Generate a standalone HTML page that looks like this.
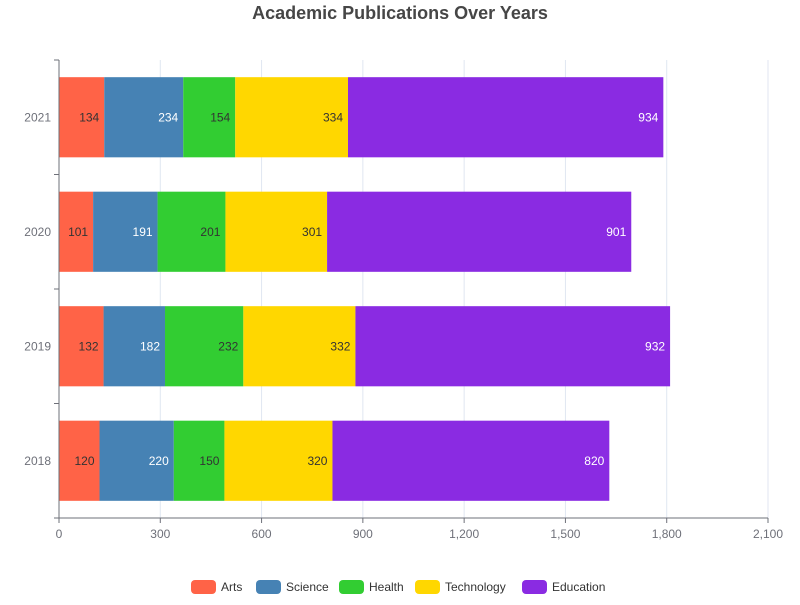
<!DOCTYPE html>
<html><head><meta charset="utf-8">
<style>
body{margin:0;background:#fff;font-family:"Liberation Sans",sans-serif;}
svg text{font-family:"Liberation Sans",sans-serif;}
</style></head>
<body>
<svg id="chart" width="800" height="600">
<text x="400" y="19" text-anchor="middle" font-size="18" font-weight="bold" fill="#464646">Academic Publications Over Years</text>
<g id="grid"></g><g id="bars"></g><g id="axes"></g><g id="legend"></g>
</svg>
<script>
const categories = ["2018","2019","2020","2021"];
const seriesNames = ["Arts","Science","Health","Technology","Education"];
const arts = [120,132,101,134];
const science = [220,182,191,234];
const health = [150,232,201,154];
const technology = [320,332,301,334];
const education = [820,932,901,934];
const xTicks = [0,300,600,900,1200,1500,1800,2100];
const colors = ["#ff6347","#4682b4","#32cd32","#ffd700","#8a2be2"];
const labelColors = ["#333","#fff","#333","#333","#fff"];
const series = [arts,science,health,technology,education];
const NS="http://www.w3.org/2000/svg";
const x0=59,x1=768,yTop=60,yBot=518,xMax=2100;
const xs=v=>x0+v/xMax*(x1-x0);
const band=(yBot-yTop)/categories.length;
const yc=i=>yBot-band*(i+0.5);
function mk(tag,attrs,parent){const e=document.createElementNS(NS,tag);for(const k in attrs)e.setAttribute(k,attrs[k]);parent.appendChild(e);return e;}
const grid=document.getElementById('grid'),bars=document.getElementById('bars'),axes=document.getElementById('axes'),legend=document.getElementById('legend');
xTicks.forEach(t=>{
  if(t>0){const l=mk('line',{x1:xs(t),x2:xs(t),y1:yTop,y2:yBot,stroke:'#e0e6f1'},grid);
  
  }
  const tx=mk('text',{x:xs(t),y:yBot+20,'text-anchor':'middle','font-size':12,fill:'#6e7079'},axes);
  tx.textContent=t.toLocaleString('en-US');
  
  
});
const bh=band*0.7;
categories.forEach((c,i)=>{
  let acc=0;
  series.forEach((s,j)=>{
    const v=s[i];
    const r=mk('rect',{x:xs(acc),y:yc(i)-bh/2,width:xs(acc+v)-xs(acc),height:bh,fill:colors[j]},bars);
    
    
    acc+=v;
    const t=mk('text',{x:xs(acc)-5,y:yc(i)+4,'text-anchor':'end','font-size':12,fill:labelColors[j]},bars);
    t.textContent=v;
    
    
  });
  const yl=mk('text',{x:x0-8,y:yc(i)+4,'text-anchor':'end','font-size':12,fill:'#6e7079'},axes);
  yl.textContent=c;
  
  
});
for(let i=0;i<=categories.length;i++){
  const tk=mk('line',{x1:x0-5,x2:x0,y1:yBot-band*i,y2:yBot-band*i,stroke:'#6e7079'},axes);
  
  
}
const ya=mk('line',{x1:x0,x2:x0,y1:yTop,y2:yBot,stroke:'#6e7079'},axes);


xTicks.forEach(t=>{const tk=mk('line',{x1:xs(t),x2:xs(t),y1:yBot,y2:yBot+5,stroke:'#6e7079'},axes);
  
  });
const xa=mk('line',{x1:x0,x2:x1,y1:yBot,y2:yBot,stroke:'#6e7079'},axes);


// legend
const lx=[191,256,339,415,522];
seriesNames.forEach((n,j)=>{
  const g=mk('g',{},legend);
  
  
  mk('rect',{x:lx[j],y:580,width:25,height:14,rx:4,fill:colors[j]},g);
  const t=mk('text',{x:lx[j]+30,y:591,'font-size':12,fill:'#333'},g);
  t.textContent=n;
});
</script>
</body></html>
